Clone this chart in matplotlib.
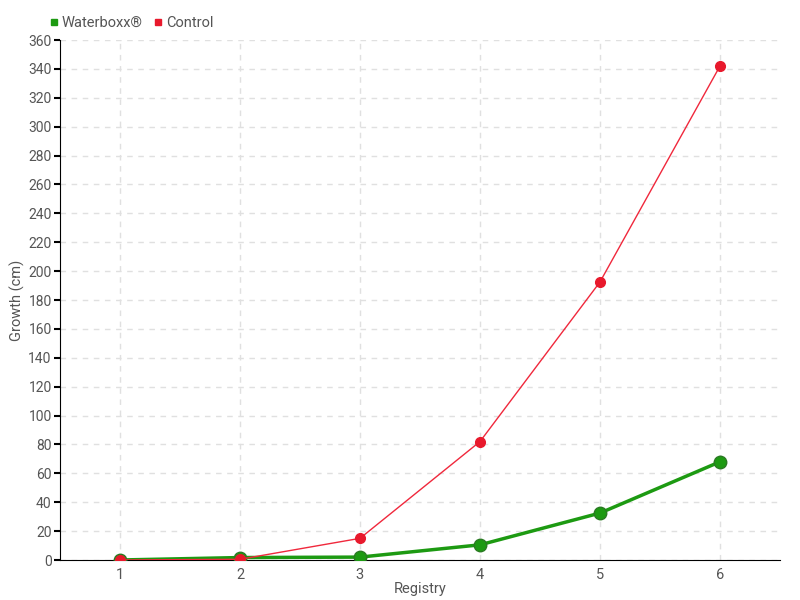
import matplotlib.pyplot as plt

registry = [1, 2, 3, 4, 5, 6]
waterboxx = [0, 1.7, 2, 10.5, 32.5, 68]
control = [0, 0.5, 15, 82, 192.5, 342]

plt.rcParams['font.family'] = ['Roboto', 'DejaVu Sans']
text_col = '#555555'

fig = plt.figure(figsize=(8, 6), dpi=100)
ax = fig.add_axes([60/800, 40/600, 720/800, 520/600])

ax.plot(registry, waterboxx, color='#1d9a12', lw=2.5, marker='o', ms=9,
        mfc='#1d9a12', mec='#2a7a22', mew=1, zorder=3, label='Waterboxx®')
ax.plot(registry, control, color='#f0283c', lw=1, marker='o', ms=7,
        mfc='#e8192c', mec='#e8192c', zorder=4, label='Control')

ax.set_xlim(0.5, 6.5)
ax.set_ylim(0, 360)
ax.set_yticks(range(0, 361, 20))
ax.set_xticks(registry)
ax.grid(True, color='#e0e0e0', ls=(0, (4, 4)), lw=1)
ax.set_axisbelow(True)
for s in ['top', 'right']:
    ax.spines[s].set_visible(False)
ax.spines['left'].set_color('black')
ax.spines['bottom'].set_color('black')
ax.tick_params(axis='y', colors=text_col, labelsize=10, length=4, width=1.5, color='black', pad=2)
ax.tick_params(axis='x', colors=text_col, labelsize=10.5, length=0, pad=6)
ax.set_xlabel('Registry', color=text_col, fontsize=10.5, labelpad=0)
ax.set_ylabel('Growth (cm)', color=text_col, fontsize=10.5)
ax.yaxis.set_label_coords(-0.048, 0.5)

handles = [plt.Line2D([], [], ls='', marker='s', ms=5, color='#1d9a12'),
           plt.Line2D([], [], ls='', marker='s', ms=5, color='#e8192c')]
fig.legend(handles, ['Waterboxx®', 'Control'], loc='upper left', bbox_to_anchor=(0.042, 0.995),
           ncol=2, frameon=False, fontsize=10.5, handletextpad=0, columnspacing=0.6,
           labelcolor=text_col, handlelength=1)

fig.savefig('out.png', dpi=100)
